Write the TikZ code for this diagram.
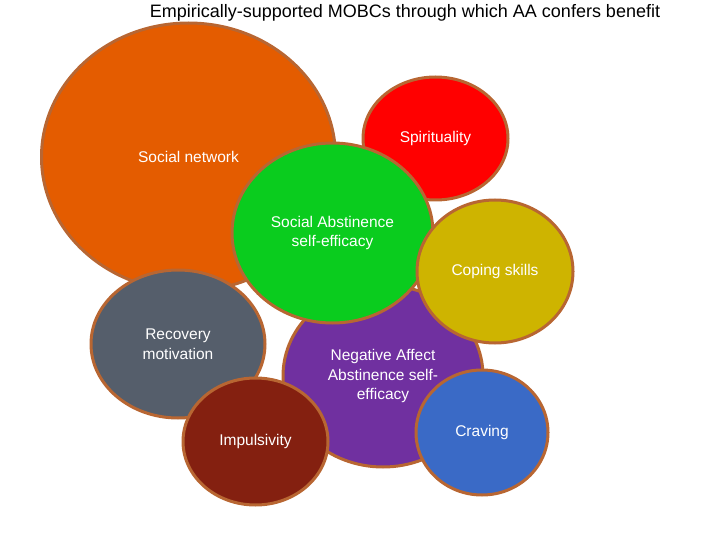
\documentclass[tikz,border=0pt]{standalone}
\usepackage{fontspec}
\setmainfont{Liberation Sans}
\usetikzlibrary{shapes.geometric}
\definecolor{rimbrown}{RGB}{184,102,50}
\definecolor{netorange}{RGB}{228,92,0}
\definecolor{spiritred}{RGB}{255,0,0}
\definecolor{abstgreen}{RGB}{10,204,30}
\definecolor{copeyellow}{RGB}{206,180,0}
\definecolor{motivgrey}{RGB}{85,94,107}
\definecolor{negpurple}{RGB}{112,48,160}
\definecolor{cravblue}{RGB}{58,106,198}
\definecolor{impulsred}{RGB}{132,32,16}
\tikzset{
  bubble/.style={ellipse,draw=rimbrown,line width=3pt,inner sep=0pt,
    text=white,align=center,font=\fontsize{15.5}{19.5}\selectfont},
  heading/.style={font=\fontsize{18}{21}\selectfont,text=black}
}

\begin{document}
\begin{tikzpicture}[x=1pt,y=-1pt]
		%%%%% START %%%%%
		\useasboundingbox (0,0) rectangle (720,540);
		
		\node[heading] (title) at (405,13) {Empirically-supported MOBCs through which AA confers benefit};
		
		\node[bubble,fill=netorange,minimum width=294pt,minimum height=268pt] (network) at (188.5,157) {Social network};
		\node[bubble,fill=spiritred,minimum width=145pt,minimum height=123pt] (spirit) at (435.5,138.5) {Spirituality};
		\node[bubble,fill=negpurple,minimum width=200pt,minimum height=182pt] (negaff) at (383,376) {Negative Affect\\Abstinence self-\\efficacy};
		\node[bubble,fill=motivgrey,minimum width=174pt,minimum height=148pt] (motiv) at (178,344) {Recovery\\motivation};
		\node[bubble,fill=abstgreen,minimum width=201pt,minimum height=180pt] (socabst) at (332.5,233) {Social Abstinence\\self-efficacy};
		\node[bubble,fill=copeyellow,minimum width=156pt,minimum height=143pt] (coping) at (495,271.5) {Coping skills};
		\node[bubble,fill=impulsred,minimum width=145pt,minimum height=127pt] (impuls) at (255.5,441.5) {Impulsivity};
		\node[bubble,fill=cravblue,minimum width=132pt,minimum height=125pt] (craving) at (482,432.5) {Craving};
		%%%%% END %%%%%
	\end{tikzpicture}
\end{document}
